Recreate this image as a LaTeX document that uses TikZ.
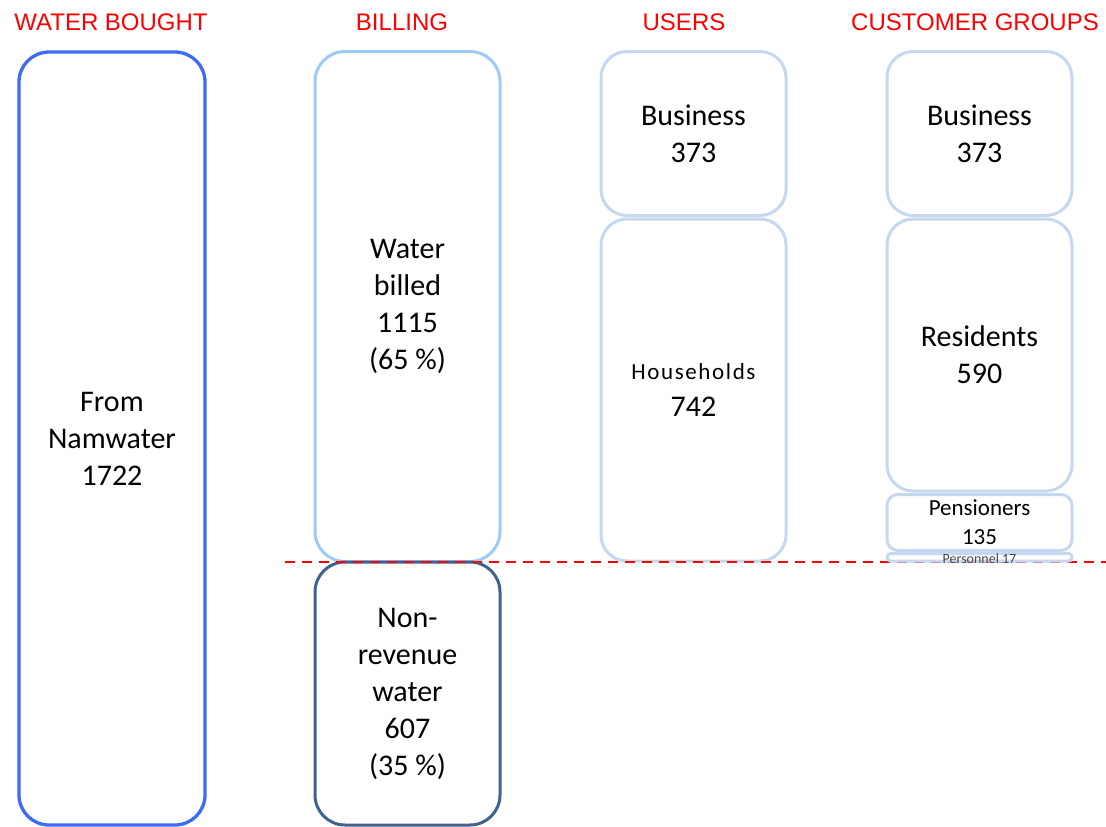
\documentclass[tikz,border=0pt]{standalone}
\usepackage{fontspec}
\setmainfont{Carlito}
\newfontfamily\hdrfont{Liberation Sans}
\definecolor{boughtblue}{RGB}{62,108,245}
\definecolor{billedblue}{RGB}{158,202,250}
\definecolor{nrwblue}{RGB}{64,98,145}
\definecolor{paleblue}{RGB}{198,216,240}
\definecolor{hdrred}{RGB}{255,0,0}
\definecolor{smallgrey}{RGB}{70,70,70}
\begin{document}
\begin{tikzpicture}[x=1pt,y=-1pt,
  boxbase/.style={draw, rectangle, inner sep=0pt, line width=3pt, align=center, fill=white},
  bigbox/.style={boxbase, rounded corners=30pt},
  bigtext/.style={font=\fontsize{30}{37}\selectfont},
  hdr/.style={font=\hdrfont\fontsize{24}{28}\selectfont, text=hdrred, inner sep=0pt},
  reddash/.style={draw=hdrred, line width=2pt, dash pattern=on 10pt off 7pt}
]
\useasboundingbox (0,0) rectangle (1106,827);
% headers
\node[hdr] (h1) at (111,22) {WATER BOUGHT};
\node[hdr] (h2) at (402,22) {BILLING};
\node[hdr] (h3) at (684,22) {USERS};
\node[hdr] (h4) at (975,22) {CUSTOMER GROUPS};
% water bought
\node[bigbox, draw=boughtblue, line width=3.3pt, minimum width=186pt, minimum height=773pt, bigtext] (bought) at (112,438.5) {From\\Namwater\\1722};
% billing
\node[bigbox, draw=billedblue, minimum width=185pt, minimum height=510pt, bigtext] (billed) at (407.5,306.5) {Water\\billed\\1115\\(65 \%)};
\node[bigbox, draw=nrwblue, minimum width=185pt, minimum height=263pt, bigtext] (nrw) at (407.5,693.5) {Non-\\revenue\\water\\607\\(35 \%)};
% users
\node[bigbox, draw=paleblue, rounded corners=26pt, minimum width=185pt, minimum height=164pt, bigtext] (ubus) at (693.5,133.5) {Business\\373};
\node[bigbox, draw=paleblue, rounded corners=26pt, minimum width=185pt, minimum height=342pt, bigtext] (uhh) at (693.5,390) {{\fontsize{23}{37}\selectfont\addfontfeature{LetterSpace=7}Households}\\742};
% customer groups
\node[bigbox, draw=paleblue, rounded corners=26pt, minimum width=185pt, minimum height=164pt, bigtext] (cbus) at (979.5,133.5) {Business\\373};
\node[bigbox, draw=paleblue, rounded corners=26pt, minimum width=185pt, minimum height=272pt, bigtext] (cres) at (979.5,355) {Residents\\590};
\node[boxbase, draw=paleblue, rounded corners=11pt, minimum width=185pt, minimum height=56pt, font=\fontsize{23}{29}\selectfont] (cpen) at (979.5,522.5) {Pensioners\\135};
% dashed line
\coordinate (dashA) at (285,562);
\coordinate (dashB) at (1106,562);
\draw[reddash] (dashA) -- (dashB);
\node[boxbase, draw=paleblue, rounded corners=3.5pt, minimum width=185pt, minimum height=7.5pt] (cper) at (979.5,557.3) {};
\node[font=\fontsize{14}{16}\selectfont, text=smallgrey, inner sep=0pt] (cpertext) at (979.5,558.5) {Personnel 17};
\end{tikzpicture}
\end{document}
